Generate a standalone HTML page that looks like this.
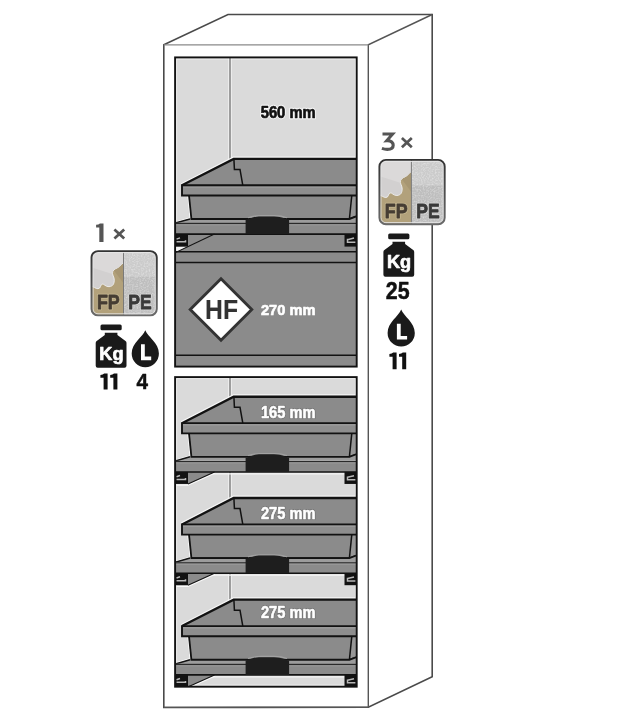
<!DOCTYPE html>
<html><head><meta charset="utf-8"><style>
html,body{margin:0;padding:0;background:#fff;width:629px;height:718px;overflow:hidden}
svg{display:block;will-change:transform}
</style></head><body>
<svg width="629" height="718" viewBox="0 0 629 718">
<rect width="629" height="718" fill="#fff"/>
<defs><clipPath id="cu"><rect x="176" y="58" width="180" height="308"/></clipPath><clipPath id="cl"><rect x="176" y="378" width="180" height="308"/></clipPath></defs>
<g clip-path="url(#cu)">
<rect x="176.0" y="58" width="180.0" height="308" fill="#dadada"/>
<rect x="176.6" y="58.9" width="178.8" height="306.2" fill="none" stroke="#f4f4f4" stroke-width="1"/>
<line x1="230" y1="58" x2="230" y2="160" stroke="#fff" stroke-width="3"/>
<line x1="230" y1="58" x2="230" y2="160" stroke="#555" stroke-width="1.15"/>
<text x="288.2" y="118.1" font-family='"Liberation Sans", sans-serif' font-weight="bold" font-size="16" fill="#fafafa" text-anchor="middle" textLength="55" lengthAdjust="spacingAndGlyphs" stroke="#fafafa" stroke-width="2.5" stroke-linejoin="round" opacity="1">560 mm</text>
<text x="288.2" y="118.1" font-family='"Liberation Sans", sans-serif' font-weight="bold" font-size="16" fill="#111" text-anchor="middle" textLength="55" lengthAdjust="spacingAndGlyphs" stroke="#111" stroke-width="0.7" stroke-linejoin="round" >560 mm</text>
<polyline points="181,184.0 233.3,157.1 356.0,157.1" fill="none" stroke="#f6f6f6" stroke-width="1.3"/>
<polygon points="233.7,158.9 356.0,158.9 356.0,185.3 182,185.3" fill="#8b8b8b"/>
<polyline points="182,185.3 233.7,158.9 356.0,158.9" fill="none" stroke="#121212" stroke-width="2.3" stroke-linejoin="miter"/>
<polyline points="233.9,158.9 234.4,169.4 240,169.4 242.8,185.3" fill="none" stroke="#121212" stroke-width="1.5"/>
<polygon points="189,195.5 351.8,195.5 349.4,219.0 191.4,219.0" fill="#8b8b8b"/>
<polygon points="351.8,195.5 356.0,195.5 356.0,216.5 349.4,219.0" fill="#979797"/>
<line x1="351.8" y1="195.5" x2="349.4" y2="219.0" stroke="#121212" stroke-width="1.5"/>
<line x1="349.4" y1="219.0" x2="356.0" y2="216.5" stroke="#121212" stroke-width="1.5"/>
<line x1="187.9" y1="195.5" x2="190.3" y2="219.0" stroke="#fff" stroke-width="1.2"/>
<line x1="189" y1="195.5" x2="191.4" y2="219.0" stroke="#121212" stroke-width="1.8"/>
<rect x="182" y="185.3" width="174.0" height="10.199999999999989" fill="#8e8e8e"/>
<line x1="182" y1="187.10000000000002" x2="356.0" y2="187.10000000000002" stroke="#a0a0a0" stroke-width="1"/>
<path d="M356.0 185.3 L182 185.3 L182 195.5 L356.0 195.5" fill="none" stroke="#121212" stroke-width="1.9"/>
<line x1="191.4" y1="219.0" x2="349.4" y2="219.0" stroke="#121212" stroke-width="1.6"/>
<rect x="176.0" y="251" width="180.0" height="115" fill="#8b8b8b"/>
<polygon points="176.0,222.8 190,219.0 300,219.0 349,219.0 356.0,216.0 356.0,222.8" fill="#9c9c9c"/>
<line x1="176.0" y1="222.0" x2="189.5" y2="218.1" stroke="#fff" stroke-width="1.2"/>
<line x1="176.0" y1="222.8" x2="190" y2="219.0" stroke="#121212" stroke-width="1.6"/>
<polyline points="190.6,219.0 349.4,219.0 356.0,216.5" fill="none" stroke="#121212" stroke-width="1.9"/>
<rect x="176.0" y="222.8" width="180.0" height="11.299999999999983" fill="#8b8b8b"/>
<line x1="176.0" y1="223.5" x2="356.0" y2="223.5" stroke="#2a2a2a" stroke-width="1.35"/>
<line x1="176.0" y1="224.8" x2="356.0" y2="224.8" stroke="#9e9e9e" stroke-width="1"/>
<rect x="176.0" y="234.1" width="180.0" height="20.160377358490564" fill="#8b8b8b"/>
<polygon points="176.0,246.6 188,246.6 176.0,252.26037735849056" fill="#f4f4f4"/>
<line x1="214.5" y1="234.1" x2="176.0" y2="252.26037735849056" stroke="#121212" stroke-width="1.1"/>
<line x1="176.0" y1="234.1" x2="356.0" y2="234.1" stroke="#121212" stroke-width="1.6"/>
<rect x="176.0" y="234.1" width="12.0" height="12.5" fill="#121212"/>
<path d="M176.5 239.1 L180.0 237.85 M176.5 241.85 L185.5 241.85 L185.5 240.35" stroke="#b8b8b8" stroke-width="1.5" fill="none"/>
<rect x="344.5" y="234.1" width="11.5" height="12.5" fill="#121212"/>
<path d="M347.5 238.85 L347.5 242.35 L355.5 242.35 M347.5 239.725 L354.0 238.1" stroke="#b8b8b8" stroke-width="1.5" fill="none"/>
<path d="M248 217.8 C250 217.0 253 215.7 261 215.6 L274 215.6 C282 215.7 285 217.0 287 217.8" fill="none" stroke="#a2a2a2" stroke-width="1.1"/>
<path d="M245.6 234.1 L245.6 219.6 C250 219.4 252 216.5 261 216.4 L274 216.4 C283 216.5 285 219.4 289.1 219.6 L289.1 234.1 Z" fill="#1e1e1e"/>
<line x1="176.0" y1="251.7" x2="356.0" y2="251.7" stroke="#121212" stroke-width="1.5"/>
<line x1="176.0" y1="262.6" x2="356.0" y2="262.6" stroke="#121212" stroke-width="1.5"/>
<line x1="176.0" y1="355.2" x2="356.0" y2="355.2" stroke="#121212" stroke-width="1.4"/>
<polygon points="221,278.75 251.75,309.5 221,340.25 190.25,309.5" fill="#fff" stroke="#333" stroke-width="2.9"/>
<text x="221.6" y="319.4" font-family='"Liberation Sans", sans-serif' font-weight="bold" font-size="27.5" fill="#333" text-anchor="middle" textLength="33.0" lengthAdjust="spacingAndGlyphs" stroke="#333" stroke-width="0.1" stroke-linejoin="round" >HF</text>
<text x="288.2" y="315.4" font-family='"Liberation Sans", sans-serif' font-weight="bold" font-size="14.6" fill="#fff" text-anchor="middle" textLength="54.5" lengthAdjust="spacingAndGlyphs" stroke="#fff" stroke-width="0.6" stroke-linejoin="round" >270 mm</text>
</g>
<g clip-path="url(#cl)">
<rect x="176.0" y="377" width="180.0" height="310" fill="#dadada"/>
<rect x="176.6" y="378.6" width="178.8" height="306.6" fill="none" stroke="#f4f4f4" stroke-width="1"/>
<line x1="230" y1="377" x2="230" y2="398" stroke="#fff" stroke-width="3"/>
<line x1="230" y1="377" x2="230" y2="398" stroke="#555" stroke-width="1.15"/>
<line x1="230" y1="472" x2="230" y2="500" stroke="#fff" stroke-width="3"/>
<line x1="230" y1="472" x2="230" y2="500" stroke="#555" stroke-width="1.15"/>
<line x1="230" y1="574" x2="230" y2="601" stroke="#fff" stroke-width="3"/>
<line x1="230" y1="574" x2="230" y2="601" stroke="#555" stroke-width="1.15"/>
<polyline points="181,421.84999999999997 233.3,394.95 356.0,394.95" fill="none" stroke="#f6f6f6" stroke-width="1.3"/>
<polygon points="233.7,396.75 356.0,396.75 356.0,423.15 182,423.15" fill="#8b8b8b"/>
<polyline points="182,423.15 233.7,396.75 356.0,396.75" fill="none" stroke="#121212" stroke-width="2.3" stroke-linejoin="miter"/>
<polyline points="233.9,396.75 234.4,407.25 240,407.25 242.8,423.15" fill="none" stroke="#121212" stroke-width="1.5"/>
<polygon points="189,433.35 351.8,433.35 349.4,456.85 191.4,456.85" fill="#8b8b8b"/>
<polygon points="351.8,433.35 356.0,433.35 356.0,454.35 349.4,456.85" fill="#979797"/>
<line x1="351.8" y1="433.35" x2="349.4" y2="456.85" stroke="#121212" stroke-width="1.5"/>
<line x1="349.4" y1="456.85" x2="356.0" y2="454.35" stroke="#121212" stroke-width="1.5"/>
<line x1="187.9" y1="433.35" x2="190.3" y2="456.85" stroke="#fff" stroke-width="1.2"/>
<line x1="189" y1="433.35" x2="191.4" y2="456.85" stroke="#121212" stroke-width="1.8"/>
<rect x="182" y="423.15" width="174.0" height="10.200000000000045" fill="#8e8e8e"/>
<line x1="182" y1="424.95" x2="356.0" y2="424.95" stroke="#a0a0a0" stroke-width="1"/>
<path d="M356.0 423.15 L182 423.15 L182 433.35 L356.0 433.35" fill="none" stroke="#121212" stroke-width="1.9"/>
<line x1="191.4" y1="456.85" x2="349.4" y2="456.85" stroke="#121212" stroke-width="1.6"/>
<text x="288.2" y="417.6" font-family='"Liberation Sans", sans-serif' font-weight="bold" font-size="16" fill="#707070" text-anchor="middle" textLength="54.5" lengthAdjust="spacingAndGlyphs" stroke="#707070" stroke-width="2.0" stroke-linejoin="round" opacity="1">165 mm</text>
<text x="288.2" y="417.6" font-family='"Liberation Sans", sans-serif' font-weight="bold" font-size="16" fill="#fff" text-anchor="middle" textLength="54.5" lengthAdjust="spacingAndGlyphs" stroke="#fff" stroke-width="0.6" stroke-linejoin="round" >165 mm</text>
<polygon points="176.0,460.85 190,456.85 300,456.85 349,456.85 356.0,453.85 356.0,460.85" fill="#9c9c9c"/>
<line x1="176.0" y1="460.05" x2="189.5" y2="455.95000000000005" stroke="#fff" stroke-width="1.2"/>
<line x1="176.0" y1="460.85" x2="190" y2="456.85" stroke="#121212" stroke-width="1.6"/>
<polyline points="190.6,456.85 349.4,456.85 356.0,454.35" fill="none" stroke="#121212" stroke-width="1.9"/>
<rect x="176.0" y="460.85" width="180.0" height="11.099999999999966" fill="#8b8b8b"/>
<line x1="176.0" y1="461.55" x2="356.0" y2="461.55" stroke="#2a2a2a" stroke-width="1.35"/>
<line x1="176.0" y1="462.85" x2="356.0" y2="462.85" stroke="#9e9e9e" stroke-width="1"/>
<line x1="176.0" y1="473.84999999999997" x2="356.0" y2="473.84999999999997" stroke="#f4f4f4" stroke-width="1.2"/>
<polygon points="188,471.95 214.5,471.95 188,483.95" fill="#8b8b8b"/>
<polyline points="214.5,473.15 188,485.15 176.0,485.15" fill="none" stroke="#fafafa" stroke-width="1.3"/>
<line x1="214.5" y1="471.95" x2="188" y2="483.95" stroke="#121212" stroke-width="1.1"/>
<line x1="176.0" y1="471.95" x2="356.0" y2="471.95" stroke="#121212" stroke-width="1.6"/>
<rect x="176.0" y="471.95" width="12.0" height="12.0" fill="#121212"/>
<path d="M176.5 476.75 L180.0 475.55 M176.5 479.39 L185.5 479.39 L185.5 477.95" stroke="#b8b8b8" stroke-width="1.5" fill="none"/>
<rect x="344.5" y="471.95" width="11.5" height="12.0" fill="#121212"/>
<path d="M347.5 476.51 L347.5 479.87 L355.5 479.87 M347.5 477.34999999999997 L354.0 475.78999999999996" stroke="#b8b8b8" stroke-width="1.5" fill="none"/>
<path d="M248 455.65000000000003 C250 454.85 253 453.55 261 453.45000000000005 L274 453.45000000000005 C282 453.55 285 454.85 287 455.65000000000003" fill="none" stroke="#a2a2a2" stroke-width="1.1"/>
<path d="M245.6 471.95 L245.6 457.45000000000005 C250 457.25 252 454.35 261 454.25 L274 454.25 C283 454.35 285 457.25 289.1 457.45000000000005 L289.1 471.95 Z" fill="#1e1e1e"/>
<polyline points="181,523.1 233.3,496.2 356.0,496.2" fill="none" stroke="#f6f6f6" stroke-width="1.3"/>
<polygon points="233.7,498.0 356.0,498.0 356.0,524.4 182,524.4" fill="#8b8b8b"/>
<polyline points="182,524.4 233.7,498.0 356.0,498.0" fill="none" stroke="#121212" stroke-width="2.3" stroke-linejoin="miter"/>
<polyline points="233.9,498.0 234.4,508.5 240,508.5 242.8,524.4" fill="none" stroke="#121212" stroke-width="1.5"/>
<polygon points="189,534.6 351.8,534.6 349.4,558.1 191.4,558.1" fill="#8b8b8b"/>
<polygon points="351.8,534.6 356.0,534.6 356.0,555.6 349.4,558.1" fill="#979797"/>
<line x1="351.8" y1="534.6" x2="349.4" y2="558.1" stroke="#121212" stroke-width="1.5"/>
<line x1="349.4" y1="558.1" x2="356.0" y2="555.6" stroke="#121212" stroke-width="1.5"/>
<line x1="187.9" y1="534.6" x2="190.3" y2="558.1" stroke="#fff" stroke-width="1.2"/>
<line x1="189" y1="534.6" x2="191.4" y2="558.1" stroke="#121212" stroke-width="1.8"/>
<rect x="182" y="524.4" width="174.0" height="10.200000000000045" fill="#8e8e8e"/>
<line x1="182" y1="526.1999999999999" x2="356.0" y2="526.1999999999999" stroke="#a0a0a0" stroke-width="1"/>
<path d="M356.0 524.4 L182 524.4 L182 534.6 L356.0 534.6" fill="none" stroke="#121212" stroke-width="1.9"/>
<line x1="191.4" y1="558.1" x2="349.4" y2="558.1" stroke="#121212" stroke-width="1.6"/>
<text x="288.2" y="519.0" font-family='"Liberation Sans", sans-serif' font-weight="bold" font-size="16" fill="#707070" text-anchor="middle" textLength="54.5" lengthAdjust="spacingAndGlyphs" stroke="#707070" stroke-width="2.0" stroke-linejoin="round" opacity="1">275 mm</text>
<text x="288.2" y="519.0" font-family='"Liberation Sans", sans-serif' font-weight="bold" font-size="16" fill="#fff" text-anchor="middle" textLength="54.5" lengthAdjust="spacingAndGlyphs" stroke="#fff" stroke-width="0.6" stroke-linejoin="round" >275 mm</text>
<polygon points="176.0,562.1 190,558.1 300,558.1 349,558.1 356.0,555.1 356.0,562.1" fill="#9c9c9c"/>
<line x1="176.0" y1="561.3000000000001" x2="189.5" y2="557.2" stroke="#fff" stroke-width="1.2"/>
<line x1="176.0" y1="562.1" x2="190" y2="558.1" stroke="#121212" stroke-width="1.6"/>
<polyline points="190.6,558.1 349.4,558.1 356.0,555.6" fill="none" stroke="#121212" stroke-width="1.9"/>
<rect x="176.0" y="562.1" width="180.0" height="11.100000000000023" fill="#8b8b8b"/>
<line x1="176.0" y1="562.8000000000001" x2="356.0" y2="562.8000000000001" stroke="#2a2a2a" stroke-width="1.35"/>
<line x1="176.0" y1="564.1" x2="356.0" y2="564.1" stroke="#9e9e9e" stroke-width="1"/>
<line x1="176.0" y1="575.1" x2="356.0" y2="575.1" stroke="#f4f4f4" stroke-width="1.2"/>
<polygon points="188,573.2 214.5,573.2 188,585.2" fill="#8b8b8b"/>
<polyline points="214.5,574.4000000000001 188,586.4000000000001 176.0,586.4000000000001" fill="none" stroke="#fafafa" stroke-width="1.3"/>
<line x1="214.5" y1="573.2" x2="188" y2="585.2" stroke="#121212" stroke-width="1.1"/>
<line x1="176.0" y1="573.2" x2="356.0" y2="573.2" stroke="#121212" stroke-width="1.6"/>
<rect x="176.0" y="573.2" width="12.0" height="12.0" fill="#121212"/>
<path d="M176.5 578.0 L180.0 576.8000000000001 M176.5 580.6400000000001 L185.5 580.6400000000001 L185.5 579.2" stroke="#b8b8b8" stroke-width="1.5" fill="none"/>
<rect x="344.5" y="573.2" width="11.5" height="12.0" fill="#121212"/>
<path d="M347.5 577.76 L347.5 581.12 L355.5 581.12 M347.5 578.6 L354.0 577.0400000000001" stroke="#b8b8b8" stroke-width="1.5" fill="none"/>
<path d="M248 556.9 C250 556.1 253 554.8000000000001 261 554.7 L274 554.7 C282 554.8000000000001 285 556.1 287 556.9" fill="none" stroke="#a2a2a2" stroke-width="1.1"/>
<path d="M245.6 573.2 L245.6 558.7 C250 558.5 252 555.6 261 555.5 L274 555.5 C283 555.6 285 558.5 289.1 558.7 L289.1 573.2 Z" fill="#1e1e1e"/>
<polyline points="181,624.8000000000001 233.3,597.9000000000001 356.0,597.9000000000001" fill="none" stroke="#f6f6f6" stroke-width="1.3"/>
<polygon points="233.7,599.7 356.0,599.7 356.0,626.1 182,626.1" fill="#8b8b8b"/>
<polyline points="182,626.1 233.7,599.7 356.0,599.7" fill="none" stroke="#121212" stroke-width="2.3" stroke-linejoin="miter"/>
<polyline points="233.9,599.7 234.4,610.2 240,610.2 242.8,626.1" fill="none" stroke="#121212" stroke-width="1.5"/>
<polygon points="189,636.3000000000001 351.8,636.3000000000001 349.4,659.8000000000001 191.4,659.8000000000001" fill="#8b8b8b"/>
<polygon points="351.8,636.3000000000001 356.0,636.3000000000001 356.0,657.3000000000001 349.4,659.8000000000001" fill="#979797"/>
<line x1="351.8" y1="636.3000000000001" x2="349.4" y2="659.8000000000001" stroke="#121212" stroke-width="1.5"/>
<line x1="349.4" y1="659.8000000000001" x2="356.0" y2="657.3000000000001" stroke="#121212" stroke-width="1.5"/>
<line x1="187.9" y1="636.3000000000001" x2="190.3" y2="659.8000000000001" stroke="#fff" stroke-width="1.2"/>
<line x1="189" y1="636.3000000000001" x2="191.4" y2="659.8000000000001" stroke="#121212" stroke-width="1.8"/>
<rect x="182" y="626.1" width="174.0" height="10.200000000000045" fill="#8e8e8e"/>
<line x1="182" y1="627.9" x2="356.0" y2="627.9" stroke="#a0a0a0" stroke-width="1"/>
<path d="M356.0 626.1 L182 626.1 L182 636.3000000000001 L356.0 636.3000000000001" fill="none" stroke="#121212" stroke-width="1.9"/>
<line x1="191.4" y1="659.8000000000001" x2="349.4" y2="659.8000000000001" stroke="#121212" stroke-width="1.6"/>
<text x="288.2" y="618.4" font-family='"Liberation Sans", sans-serif' font-weight="bold" font-size="16" fill="#707070" text-anchor="middle" textLength="54.5" lengthAdjust="spacingAndGlyphs" stroke="#707070" stroke-width="2.0" stroke-linejoin="round" opacity="1">275 mm</text>
<text x="288.2" y="618.4" font-family='"Liberation Sans", sans-serif' font-weight="bold" font-size="16" fill="#fff" text-anchor="middle" textLength="54.5" lengthAdjust="spacingAndGlyphs" stroke="#fff" stroke-width="0.6" stroke-linejoin="round" >275 mm</text>
<polygon points="176.0,663.8000000000001 190,659.8000000000001 300,659.8000000000001 349,659.8000000000001 356.0,656.8000000000001 356.0,663.8000000000001" fill="#9c9c9c"/>
<line x1="176.0" y1="663.0000000000001" x2="189.5" y2="658.9000000000001" stroke="#fff" stroke-width="1.2"/>
<line x1="176.0" y1="663.8000000000001" x2="190" y2="659.8000000000001" stroke="#121212" stroke-width="1.6"/>
<polyline points="190.6,659.8000000000001 349.4,659.8000000000001 356.0,657.3000000000001" fill="none" stroke="#121212" stroke-width="1.9"/>
<rect x="176.0" y="663.8000000000001" width="180.0" height="11.100000000000023" fill="#8b8b8b"/>
<line x1="176.0" y1="664.5000000000001" x2="356.0" y2="664.5000000000001" stroke="#2a2a2a" stroke-width="1.35"/>
<line x1="176.0" y1="665.8000000000001" x2="356.0" y2="665.8000000000001" stroke="#9e9e9e" stroke-width="1"/>
<line x1="176.0" y1="676.8000000000001" x2="356.0" y2="676.8000000000001" stroke="#f4f4f4" stroke-width="1.2"/>
<polygon points="188,674.9000000000001 214.5,674.9000000000001 188,686.9000000000001" fill="#8b8b8b"/>
<polyline points="214.5,676.1000000000001 188,688.1000000000001 176.0,688.1000000000001" fill="none" stroke="#fafafa" stroke-width="1.3"/>
<line x1="214.5" y1="674.9000000000001" x2="188" y2="686.9000000000001" stroke="#121212" stroke-width="1.1"/>
<line x1="176.0" y1="674.9000000000001" x2="356.0" y2="674.9000000000001" stroke="#121212" stroke-width="1.6"/>
<rect x="176.0" y="674.9000000000001" width="12.0" height="12.0" fill="#121212"/>
<path d="M176.5 679.7 L180.0 678.5000000000001 M176.5 682.3400000000001 L185.5 682.3400000000001 L185.5 680.9000000000001" stroke="#b8b8b8" stroke-width="1.5" fill="none"/>
<rect x="344.5" y="674.9000000000001" width="11.5" height="12.0" fill="#121212"/>
<path d="M347.5 679.46 L347.5 682.82 L355.5 682.82 M347.5 680.3000000000001 L354.0 678.7400000000001" stroke="#b8b8b8" stroke-width="1.5" fill="none"/>
<path d="M248 658.6 C250 657.8000000000001 253 656.5000000000001 261 656.4000000000001 L274 656.4000000000001 C282 656.5000000000001 285 657.8000000000001 287 658.6" fill="none" stroke="#a2a2a2" stroke-width="1.1"/>
<path d="M245.6 674.9000000000001 L245.6 660.4000000000001 C250 660.2 252 657.3000000000001 261 657.2 L274 657.2 C283 657.3000000000001 285 660.2 289.1 660.4000000000001 L289.1 674.9000000000001 Z" fill="#1e1e1e"/>
</g>
<rect x="175.1" y="57.4" width="181.6" height="309.2" fill="none" stroke="#121212" stroke-width="1.9"/>
<rect x="175.1" y="377.1" width="181.6" height="309.6" fill="none" stroke="#121212" stroke-width="1.9"/>
<path d="M163.8 707.5 L163.8 44.8 L228 14.5 L432.2 14.5 L432.2 676.8 L368.3 707.3 Z" fill="none" stroke="#4a4a4a" stroke-width="1.6" stroke-linejoin="miter"/>
<path d="M163.8 707.4 L368.3 707.4 L368.3 44.8 L432.2 14.5" fill="none" stroke="#555" stroke-width="1.4"/>
<line x1="163.8" y1="44.8" x2="368.3" y2="44.8" stroke="#8a8a8a" stroke-width="1.3"/>
<path d="M103.5 223.4 L103.5 241.9 L99.3 241.9 L99.3 227.6 L96.1 227.6 L96.1 224.8 Q98.7 224.6 99.89999999999999 223.4 Z" fill="#555"/>
<path d="M114.4 229.4 L124.2 238.5 M124.2 229.4 L114.4 238.5" stroke="#555" stroke-width="2.7"/>
<defs><clipPath id="c91"><rect x="91.5" y="251.1" width="65.3" height="64.3" rx="6.5"/></clipPath><linearGradient id="gc91" x1="0" y1="0" x2="0" y2="1"><stop offset="0" stop-color="#333"/><stop offset="1" stop-color="#6a6a6a"/></linearGradient><filter id="nc91" x="0" y="0" width="100%" height="100%"><feTurbulence type="fractalNoise" baseFrequency="0.65" numOctaves="2" seed="91"/><feColorMatrix type="matrix" values="0 0 0 0 1  0 0 0 0 1  0 0 0 0 1  0 0 0 2.2 -0.9"/></filter></defs>
<g clip-path="url(#c91)">
<rect x="91.5" y="251.1" width="32.0" height="64.3" fill="#b2a17b"/>
<polygon points="123.5,251.1 123.5,283.25 111.5,267.175" fill="#a08f6c" opacity="0.6"/>
<path d="M89.50 249.10 L124.00 249.10 L124.00 262.20 C122.00 263.60 120.50 265.60 119.30 266.60 C117.00 268.60 114.00 268.60 112.70 271.60 C111.50 274.60 114.70 277.10 114.30 280.60 C114.00 284.10 113.00 286.30 109.00 286.70 C105.50 286.90 104.00 283.60 102.10 284.10 C100.30 284.60 101.00 288.60 98.00 288.70 C95.50 288.80 94.00 286.60 89.50 285.60 Z" fill="#d2d0d0" stroke="#efefef" stroke-width="0.9"/>
<path d="M89.50 249.10 L123.50 249.10 L123.50 262.40 C122.00 263.60 120.50 265.60 119.30 266.60 C117.00 268.60 114.00 268.60 112.70 271.60 L112.30 274.00 L89.50 266.70 Z" fill="#dbd9d9"/>
<rect x="123.5" y="251.1" width="33.30000000000001" height="64.3" fill="#bebebe"/>
<rect x="123.5" y="251.1" width="33.30000000000001" height="25.72" fill="#cbcbcb"/>
<rect x="123.5" y="251.1" width="33.30000000000001" height="64.3" filter="url(#nc91)" opacity="0.4"/>
<line x1="123.5" y1="251.1" x2="123.5" y2="315.4" stroke="#7a7a7a" stroke-width="1"/>
</g>
<rect x="93.0" y="252.6" width="62.3" height="61.3" rx="5.0" fill="none" stroke="#e6e6e6" stroke-width="1"/>
<rect x="91.5" y="251.1" width="65.3" height="64.3" rx="6.5" fill="none" stroke="url(#gc91)" stroke-width="1.9"/>
<text x="96.9" y="309.1" font-family='"Liberation Sans", sans-serif' font-weight="bold" font-size="20" fill="#cdbf98" text-anchor="start" textLength="22.8" lengthAdjust="spacingAndGlyphs" stroke="#cdbf98" stroke-width="2.4000000000000004" stroke-linejoin="round" opacity="0.8">FP</text>
<text x="96.9" y="309.1" font-family='"Liberation Sans", sans-serif' font-weight="bold" font-size="20" fill="#463d33" text-anchor="start" textLength="22.8" lengthAdjust="spacingAndGlyphs" stroke="#463d33" stroke-width="0.8" stroke-linejoin="round" >FP</text>
<text x="128.3" y="309.1" font-family='"Liberation Sans", sans-serif' font-weight="bold" font-size="20" fill="#dedede" text-anchor="start" textLength="23.4" lengthAdjust="spacingAndGlyphs" stroke="#dedede" stroke-width="2.4000000000000004" stroke-linejoin="round" opacity="0.8">PE</text>
<text x="128.3" y="309.1" font-family='"Liberation Sans", sans-serif' font-weight="bold" font-size="20" fill="#3a3a3a" text-anchor="start" textLength="23.4" lengthAdjust="spacingAndGlyphs" stroke="#3a3a3a" stroke-width="0.8" stroke-linejoin="round" >PE</text>
<rect x="100.5" y="324.4" width="21.2" height="5.8" rx="1.5" fill="#1a1a1a"/>
<path d="M104.8 332.79999999999995 L117.39999999999999 332.79999999999995 L117.39999999999999 334.99999999999994 L125.5 340.9 Q126.5 341.59999999999997 126.5 342.9 L126.5 365.8 Q126.5 367.8 124.5 367.8 L97.69999999999999 367.8 Q95.69999999999999 367.8 95.69999999999999 365.8 L95.69999999999999 342.9 Q95.69999999999999 341.59999999999997 96.69999999999999 340.9 L104.8 334.99999999999994 Z" fill="#1a1a1a"/>
<text x="111.39999999999999" y="359.5" font-family='"Liberation Sans", sans-serif' font-weight="bold" font-size="18.5" fill="#fff" text-anchor="middle" textLength="24.2" lengthAdjust="spacingAndGlyphs" stroke="#fff" stroke-width="0.7" stroke-linejoin="round" >Kg</text>
<path d="M145.3 330.3 C147.8 337.3 158.9 342.71999999999997 158.9 353.59999999999997 A13.6 13.6 0 0 1 131.70000000000002 353.59999999999997 C131.70000000000002 342.71999999999997 142.8 337.3 145.3 330.3 Z" fill="#1a1a1a"/>
<path d="M141.0 344.29999999999995 h3.8 v12.3 h6.4 v3.6 h-10.2 Z" fill="#fff"/>
<path d="M107.6 373.5 L107.6 389.4 L103.6 389.4 L103.6 377.7 L100.39999999999999 377.7 L100.39999999999999 374.9 Q103.0 374.7 104.19999999999999 373.5 Z" fill="#111"/>
<path d="M117.4 373.5 L117.4 389.4 L113.4 389.4 L113.4 377.7 L110.2 377.7 L110.2 374.9 Q112.80000000000001 374.7 114.0 373.5 Z" fill="#111"/>
<text x="142.3" y="389.4" font-family='"Liberation Sans", sans-serif' font-weight="bold" font-size="22.4" fill="#111" text-anchor="middle" textLength="11.5" lengthAdjust="spacingAndGlyphs" stroke="#111" stroke-width="0.5" stroke-linejoin="round" >4</text>
<path d="M382.5 134 H392.6 L386.8 140.6 C391.4 140.3 393.2 143 393.2 145.3 C393.2 148.2 390.8 149.4 387.3 149.4 C385.5 149.4 383.6 149 381.9 148.4" fill="none" stroke="#555" stroke-width="3.1" stroke-linejoin="miter"/>
<path d="M401.9 138.1 L411.8 147.2 M411.8 138.1 L401.9 147.2" stroke="#555" stroke-width="2.7"/>
<defs><clipPath id="c379"><rect x="379.4" y="159.9" width="65.3" height="64.3" rx="6.5"/></clipPath><linearGradient id="gc379" x1="0" y1="0" x2="0" y2="1"><stop offset="0" stop-color="#333"/><stop offset="1" stop-color="#6a6a6a"/></linearGradient><filter id="nc379" x="0" y="0" width="100%" height="100%"><feTurbulence type="fractalNoise" baseFrequency="0.65" numOctaves="2" seed="379"/><feColorMatrix type="matrix" values="0 0 0 0 1  0 0 0 0 1  0 0 0 0 1  0 0 0 2.2 -0.9"/></filter></defs>
<g clip-path="url(#c379)">
<rect x="379.4" y="159.9" width="32.0" height="64.3" fill="#b2a17b"/>
<polygon points="411.4,159.9 411.4,192.05 399.4,175.975" fill="#a08f6c" opacity="0.6"/>
<path d="M377.40 157.90 L411.90 157.90 L411.90 171.00 C409.90 172.40 408.40 174.40 407.20 175.40 C404.90 177.40 401.90 177.40 400.60 180.40 C399.40 183.40 402.60 185.90 402.20 189.40 C401.90 192.90 400.90 195.10 396.90 195.50 C393.40 195.70 391.90 192.40 390.00 192.90 C388.20 193.40 388.90 197.40 385.90 197.50 C383.40 197.60 381.90 195.40 377.40 194.40 Z" fill="#d2d0d0" stroke="#efefef" stroke-width="0.9"/>
<path d="M377.40 157.90 L411.40 157.90 L411.40 171.20 C409.90 172.40 408.40 174.40 407.20 175.40 C404.90 177.40 401.90 177.40 400.60 180.40 L400.20 182.80 L377.40 175.50 Z" fill="#dbd9d9"/>
<rect x="411.4" y="159.9" width="33.30000000000001" height="64.3" fill="#bebebe"/>
<rect x="411.4" y="159.9" width="33.30000000000001" height="25.72" fill="#cbcbcb"/>
<rect x="411.4" y="159.9" width="33.30000000000001" height="64.3" filter="url(#nc379)" opacity="0.4"/>
<line x1="411.4" y1="159.9" x2="411.4" y2="224.2" stroke="#7a7a7a" stroke-width="1"/>
</g>
<rect x="380.9" y="161.4" width="62.3" height="61.3" rx="5.0" fill="none" stroke="#e6e6e6" stroke-width="1"/>
<rect x="379.4" y="159.9" width="65.3" height="64.3" rx="6.5" fill="none" stroke="url(#gc379)" stroke-width="1.9"/>
<text x="384.79999999999995" y="217.9" font-family='"Liberation Sans", sans-serif' font-weight="bold" font-size="20" fill="#cdbf98" text-anchor="start" textLength="22.8" lengthAdjust="spacingAndGlyphs" stroke="#cdbf98" stroke-width="2.4000000000000004" stroke-linejoin="round" opacity="0.8">FP</text>
<text x="384.79999999999995" y="217.9" font-family='"Liberation Sans", sans-serif' font-weight="bold" font-size="20" fill="#463d33" text-anchor="start" textLength="22.8" lengthAdjust="spacingAndGlyphs" stroke="#463d33" stroke-width="0.8" stroke-linejoin="round" >FP</text>
<text x="416.2" y="217.9" font-family='"Liberation Sans", sans-serif' font-weight="bold" font-size="20" fill="#dedede" text-anchor="start" textLength="23.4" lengthAdjust="spacingAndGlyphs" stroke="#dedede" stroke-width="2.4000000000000004" stroke-linejoin="round" opacity="0.8">PE</text>
<text x="416.2" y="217.9" font-family='"Liberation Sans", sans-serif' font-weight="bold" font-size="20" fill="#3a3a3a" text-anchor="start" textLength="23.4" lengthAdjust="spacingAndGlyphs" stroke="#3a3a3a" stroke-width="0.8" stroke-linejoin="round" >PE</text>
<rect x="388.2" y="233.4" width="21.2" height="5.8" rx="1.5" fill="#1a1a1a"/>
<path d="M392.5 241.8 L405.1 241.8 L405.1 244.0 L413.2 249.9 Q414.2 250.6 414.2 251.9 L414.2 274.8 Q414.2 276.8 412.2 276.8 L385.40000000000003 276.8 Q383.40000000000003 276.8 383.40000000000003 274.8 L383.40000000000003 251.9 Q383.40000000000003 250.6 384.40000000000003 249.9 L392.5 244.0 Z" fill="#1a1a1a"/>
<text x="399.1" y="267.9" font-family='"Liberation Sans", sans-serif' font-weight="bold" font-size="18.5" fill="#fff" text-anchor="middle" textLength="24.2" lengthAdjust="spacingAndGlyphs" stroke="#fff" stroke-width="0.7" stroke-linejoin="round" >Kg</text>
<text x="397.7" y="299.0" font-family='"Liberation Sans", sans-serif' font-weight="bold" font-size="23" fill="#111" text-anchor="middle" textLength="23.8" lengthAdjust="spacingAndGlyphs" stroke="#111" stroke-width="0.5" stroke-linejoin="round" >25</text>
<path d="M401.2 309.5 C403.7 316.5 414.8 322.12 414.8 333.0 A13.6 13.6 0 0 1 387.59999999999997 333.0 C387.59999999999997 322.12 398.7 316.5 401.2 309.5 Z" fill="#1a1a1a"/>
<path d="M396.9 323.7 h3.8 v12.3 h6.4 v3.6 h-10.2 Z" fill="#fff"/>
<path d="M396.6 352.6 L396.6 369.2 L392.6 369.2 L392.6 356.8 L389.40000000000003 356.8 L389.40000000000003 354.0 Q392.0 353.8 393.20000000000005 352.6 Z" fill="#111"/>
<path d="M406.2 352.6 L406.2 369.2 L402.2 369.2 L402.2 356.8 L399.0 356.8 L399.0 354.0 Q401.59999999999997 353.8 402.8 352.6 Z" fill="#111"/>
</svg>
</body></html>
